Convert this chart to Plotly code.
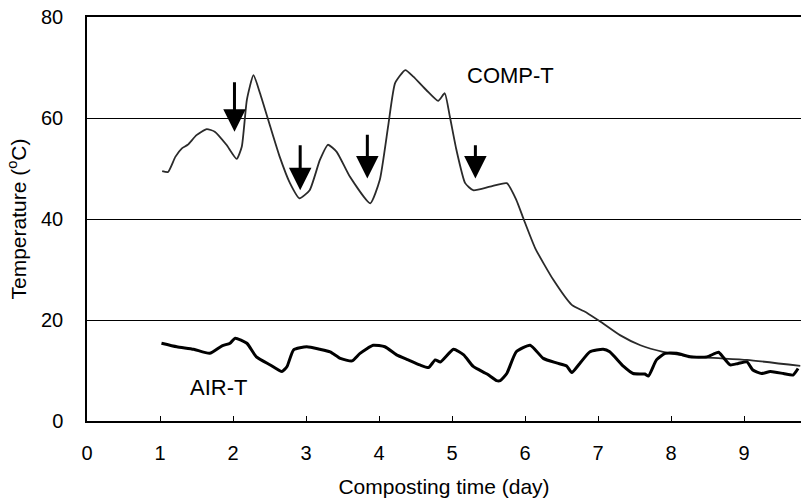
import plotly.graph_objects as go

# COMP-T (compost temperature)
comp_x = [1.03, 1.11, 1.21, 1.30, 1.38, 1.50, 1.64, 1.75, 1.91, 2.05, 2.12, 2.19, 2.28, 2.37,
          2.51, 2.64, 2.78, 2.91, 3.05, 3.19, 3.30, 3.42, 3.60, 3.88, 4.01, 4.13, 4.22, 4.36,
          4.47, 4.65, 4.81, 4.90, 4.97, 5.06, 5.18, 5.29, 5.52, 5.75, 5.88, 5.98, 6.14, 6.39,
          6.64, 6.85, 7.03, 7.30, 7.58, 7.89, 8.35, 9.04, 9.77]
comp_y = [49.5, 49.3, 52.3, 54.0, 54.7, 56.6, 57.8, 57.3, 54.7, 51.9, 54.3, 63.6, 68.5, 64.9,
          58.3, 52.3, 47.1, 44.1, 45.7, 51.7, 54.7, 53.3, 48.4, 43.1, 47.7, 58.9, 66.9, 69.5,
          68.2, 65.5, 63.4, 64.9, 60.3, 53.7, 47.1, 45.7, 46.4, 47.1, 43.8, 40.0, 34.2, 27.9,
          23.0, 21.4, 19.7, 17.0, 15.0, 13.7, 12.7, 12.1, 10.9]

# AIR-T (air temperature)
air_x = [1.02, 1.23, 1.46, 1.68, 1.85, 1.96, 2.03, 2.19, 2.32, 2.51, 2.67, 2.74, 2.83, 3.01,
         3.19, 3.33, 3.47, 3.63, 3.74, 3.92, 4.08, 4.24, 4.40, 4.56, 4.68, 4.77, 4.84, 5.02,
         5.16, 5.29, 5.48, 5.61, 5.66, 5.75, 5.88, 6.07, 6.25, 6.43, 6.57, 6.64, 6.75, 6.89,
         7.07, 7.16, 7.35, 7.48, 7.64, 7.69, 7.80, 7.92, 8.08, 8.26, 8.49, 8.65, 8.71, 8.81,
         8.92, 9.04, 9.12, 9.24, 9.36, 9.54, 9.67, 9.74]
air_y = [15.4, 14.7, 14.2, 13.4, 14.9, 15.4, 16.4, 15.4, 12.7, 11.1, 9.8, 10.8, 14.1, 14.7,
         14.2, 13.7, 12.4, 11.9, 13.4, 15.0, 14.7, 13.1, 12.1, 11.1, 10.6, 12.1, 11.7, 14.2,
         13.1, 10.8, 9.3, 8.0, 8.0, 9.4, 13.7, 15.0, 12.4, 11.5, 10.9, 9.6, 11.4, 13.7,
         14.2, 13.7, 10.8, 9.4, 9.3, 8.9, 12.1, 13.4, 13.4, 12.7, 12.7, 13.6, 12.7, 11.1,
         11.4, 11.7, 10.1, 9.4, 9.8, 9.4, 9.1, 10.4]

# Turning arrows
arrow_x = [2.02, 2.92, 3.84, 5.32]
arrow_tip = [57.3, 45.7, 48.0, 48.0]
arrow_tail = [67.4, 54.9, 57.0, 54.9]

x_ticks = [0, 1, 2, 3, 4, 5, 6, 7, 8, 9]
y_ticks = [0, 20, 40, 60, 80]

FONT = "Liberation Sans, Arial, sans-serif"

fig = go.Figure()
fig.add_trace(go.Scatter(x=comp_x, y=comp_y, mode="lines",
                         line=dict(color="#2a2a2a", width=1.8, shape="spline", smoothing=0.5),
                         showlegend=False))
fig.add_trace(go.Scatter(x=air_x, y=air_y, mode="lines",
                         line=dict(color="black", width=3, shape="spline", smoothing=0.5),
                         showlegend=False))

annotations = []
for xa, yt, yb in zip(arrow_x, arrow_tip, arrow_tail):
    annotations.append(dict(x=xa, y=yt, ax=xa, ay=yb, xref="x", yref="y", axref="x", ayref="y",
                            text="", showarrow=True, arrowhead=2, arrowsize=1.5, arrowwidth=3,
                            arrowcolor="black"))
annotations.append(dict(x=5.8, y=68.5, xref="x", yref="y", text="COMP-T", showarrow=False,
                        font=dict(family=FONT, size=22, color="black")))
annotations.append(dict(x=1.8, y=6.7, xref="x", yref="y", text="AIR-T", showarrow=False,
                        font=dict(family=FONT, size=22, color="black")))

fig.update_layout(
    width=801, height=500,
    margin=dict(l=87, r=0, t=17, b=79),
    paper_bgcolor="white", plot_bgcolor="white",
    font=dict(family=FONT, size=20, color="black"),
    annotations=annotations,
    xaxis=dict(range=[0, 9.78], tickvals=x_ticks, ticks="inside", ticklen=5, tickcolor="black",
               showline=True, linecolor="black", linewidth=1.5, mirror=True, showgrid=False,
               zeroline=False, ticklabelstandoff=13, tickfont=dict(size=20),
               title=dict(text="Composting time (day)", standoff=17, font=dict(size=21))),
    yaxis=dict(range=[0, 80], tickvals=y_ticks, ticks="", showline=True, linecolor="black",
               linewidth=1.5, showgrid=True, gridcolor="black", gridwidth=1, zeroline=False,
               ticklabelstandoff=18, tickfont=dict(size=20),
               title=dict(text="Temperature (<sup>o</sup>C)", standoff=9, font=dict(size=21))),
)

fig.write_html("out.html")
